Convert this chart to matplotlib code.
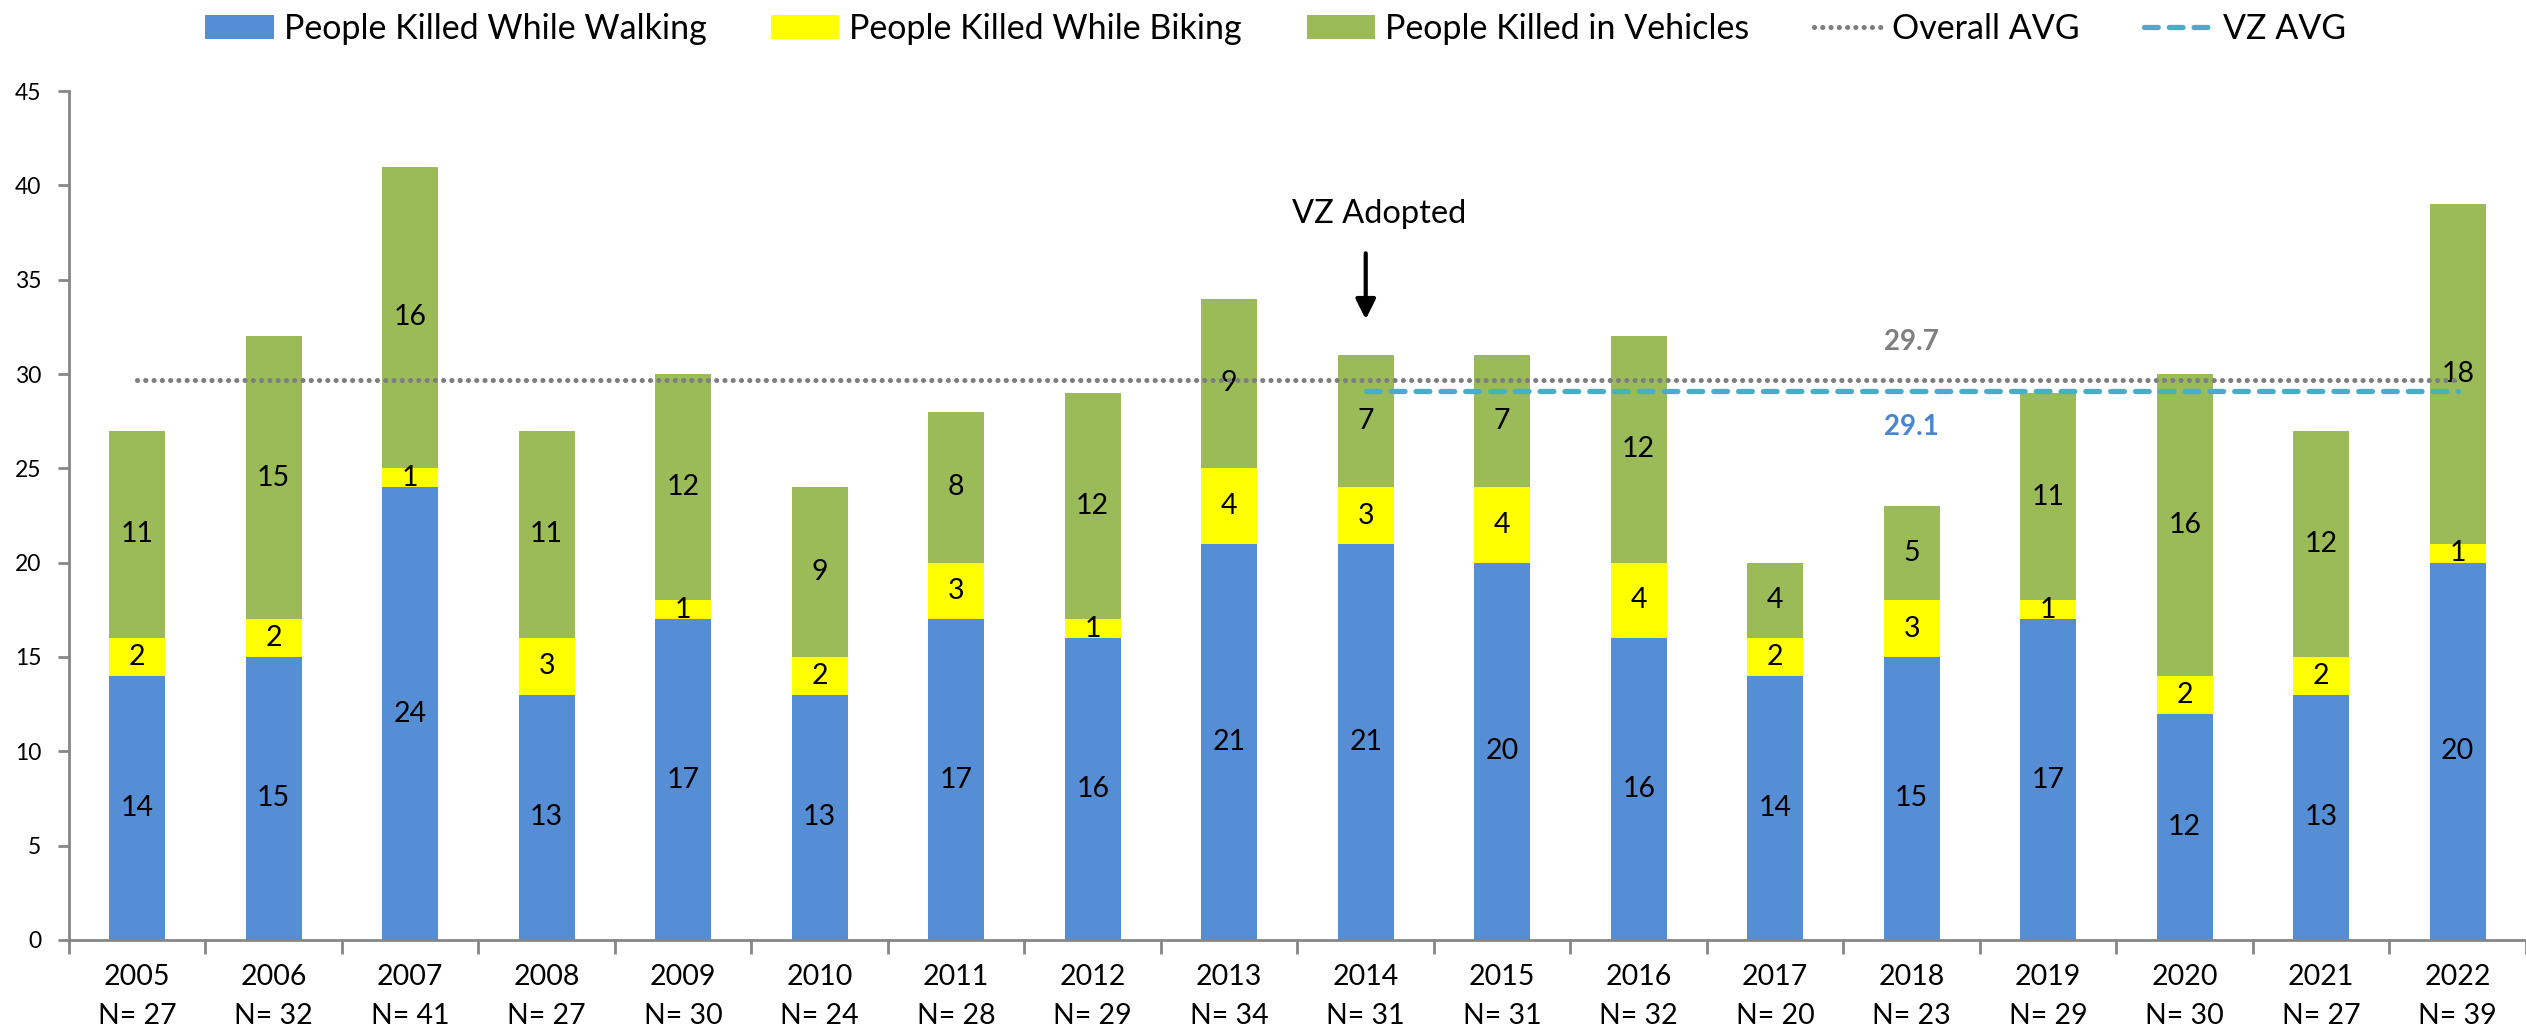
import matplotlib
matplotlib.use("Agg")
import matplotlib.pyplot as plt
import numpy as np

years = ["2005", "2006", "2007", "2008", "2009", "2010", "2011", "2012", "2013",
         "2014", "2015", "2016", "2017", "2018", "2019", "2020", "2021", "2022"]
walking = [14, 15, 24, 13, 17, 13, 17, 16, 21, 21, 20, 16, 14, 15, 17, 12, 13, 20]
biking = [2, 2, 1, 3, 1, 2, 3, 1, 4, 3, 4, 4, 2, 3, 1, 2, 2, 1]
vehicles = [11, 15, 16, 11, 12, 9, 8, 12, 9, 7, 7, 12, 4, 5, 11, 16, 12, 18]
totals = [27, 32, 41, 27, 30, 24, 28, 29, 34, 31, 31, 32, 20, 23, 29, 30, 27, 39]
overall_avg = 29.7
vz_avg = 29.1
vz_start_year = "2014"

plt.rcParams['font.family'] = ['Lato', 'DejaVu Sans']

fig = plt.figure(figsize=(25.26, 10.36), dpi=100)
ax = fig.add_axes([0.0273, 0.0927, 0.9727, 0.8194])

x = np.arange(len(years))
w = 0.41
c_walk, c_bike, c_veh = "#558ED5", "#FFFF00", "#9BBB59"
b1 = ax.bar(x, walking, w, color=c_walk, label="People Killed While Walking")
b2 = ax.bar(x, biking, w, bottom=walking, color=c_bike, label="People Killed While Biking")
bottom3 = np.array(walking) + np.array(biking)
b3 = ax.bar(x, vehicles, w, bottom=bottom3, color=c_veh, label="People Killed in Vehicles")

for bars in (b1, b2, b3):
    ax.bar_label(bars, label_type="center", fontsize=20.5, color="black")

l1, = ax.plot([x[0], x[-1]], [overall_avg, overall_avg], color="#7F7F7F", lw=3.7,
              linestyle=(0, (0.01, 1.6)), dash_capstyle="round", label="Overall AVG", zorder=3)
vz_i = years.index(vz_start_year)
l2, = ax.plot([x[vz_i], x[-1]], [vz_avg, vz_avg], color="#4BACC6", lw=3.8,
              linestyle=(0, (2.6, 2.1)), dash_capstyle="round", label="VZ AVG", zorder=3)

ax.text(13, 31.7, f"{overall_avg}", color="#7F7F7F", fontsize=20, fontweight="bold",
        ha="center", va="center")
ax.text(13, 27.2, f"{vz_avg}", color="#4A86D0", fontsize=20, fontweight="bold",
        ha="center", va="center")

ax.text(vz_i + 0.1, 38.5, "VZ Adopted", fontsize=23.5, ha="center", va="center")
ax.annotate("", xy=(vz_i, 32.9), xytext=(vz_i, 36.4),
            arrowprops=dict(arrowstyle="-|>", color="black", lw=3,
                            mutation_scale=30, shrinkA=0, shrinkB=0))

ax.set_xlim(-0.5, len(years) - 0.5)
ax.set_ylim(0, 45)
ax.set_yticks(np.arange(0, 46, 5))
ax.set_xticks(x)
ax.set_xticklabels([f"{y}\nN= {t}" for y, t in zip(years, totals)], linespacing=1.65)
ax.set_xticks(np.arange(-0.5, len(years), 1), minor=True)
ax.tick_params(axis="x", which="major", length=0, labelsize=20.5, pad=17)
ax.tick_params(axis="x", which="minor", length=10, width=2, color="#868686")
ax.tick_params(axis="y", length=8, width=2, color="#868686", labelsize=16.5, pad=12)

for s in ("top", "right"):
    ax.spines[s].set_visible(False)
for s in ("left", "bottom"):
    ax.spines[s].set_color("#868686")
    ax.spines[s].set_linewidth(2)

fig.legend(handles=[b1, b2, b3, l1, l2], loc="center", bbox_to_anchor=(0.505, 0.972),
           ncol=5, frameon=False, fontsize=24.5, handlelength=2.0, handletextpad=0.3,
           columnspacing=1.9)

fig.savefig("out.png", dpi=100)
